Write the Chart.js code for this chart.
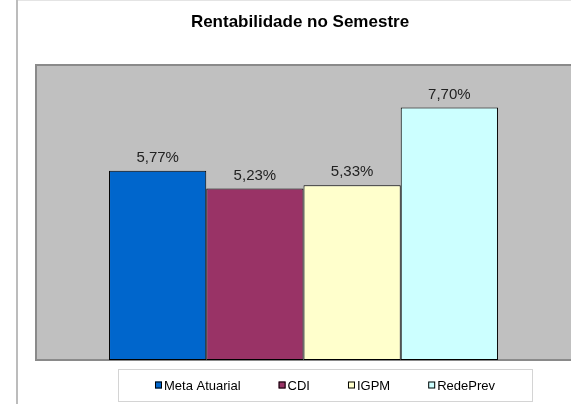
<!DOCTYPE html>
<html>
<head>
<meta charset="utf-8">
<script src="https://cdn.jsdelivr.net/npm/chart.js@4/dist/chart.umd.min.js"></script>
<style>
  html, body { margin: 0; padding: 0; background: #fff; }
  #wrap { width: 571px; height: 404px; position: relative; }
</style>
</head>
<body>
<div id="wrap"><canvas id="rentChart" width="571" height="404"></canvas></div>
<script>
const chartTitle = "Rentabilidade no Semestre";
const categories = ["Semestre"];
const seriesNames = ["Meta Atuarial", "CDI", "IGPM", "RedePrev"];
const seriesValues = [5.77, 5.23, 5.33, 7.70];
const seriesColors = ["#0066CC", "#993366", "#FFFFCC", "#CCFFFF"];
const yTicks = [0, 9];

const FONT = "'Liberation Sans', Arial, sans-serif";

function fmtPct(v) {
  return v.toFixed(2).replace(".", ",") + "%";
}

// background, frame lines, plot area and title
const framePlugin = {
  id: "frame",
  beforeDraw(chart) {
    const ctx = chart.ctx;
    const a = chart.chartArea;
    ctx.save();
    ctx.fillStyle = "#fff";
    ctx.fillRect(0, 0, chart.width, chart.height);
    // outer chart border (left + top)
    ctx.fillStyle = "#bcbcbc";
    ctx.fillRect(16, 0, 2, chart.height);
    ctx.fillStyle = "#e4e4e4";
    ctx.fillRect(18, 0, chart.width - 18, 1);
    // plot area
    ctx.fillStyle = "#C0C0C0";
    ctx.fillRect(a.left, a.top, a.right - a.left, a.bottom - a.top);
    ctx.strokeStyle = "#8a8a8a";
    ctx.lineWidth = 2;
    ctx.beginPath();
    ctx.moveTo(a.right + 2, a.top);
    ctx.lineTo(a.left, a.top);
    ctx.lineTo(a.left, a.bottom);
    ctx.lineTo(a.right + 2, a.bottom);
    ctx.stroke();
    // title
    ctx.fillStyle = "#000";
    ctx.font = "bold 17px " + FONT;
    ctx.textAlign = "center";
    ctx.textBaseline = "alphabetic";
    ctx.fillText(chartTitle, 300, 27);
    ctx.restore();
  },
  afterDatasetsDraw(chart) {
    const ctx = chart.ctx;
    ctx.save();
    ctx.fillStyle = "#222";
    ctx.font = "15px " + FONT;
    ctx.textAlign = "center";
    ctx.textBaseline = "alphabetic";
    chart.data.datasets.forEach((ds, i) => {
      const bar = chart.getDatasetMeta(i).data[0];
      ctx.fillText(fmtPct(ds.data[0]), bar.x, bar.y - 9);
    });

    // legend box at the bottom
    const boxL = 118, boxR = 532, boxT = 369.5, boxB = 401.5;
    ctx.strokeStyle = "#d4d4d4";
    ctx.lineWidth = 1;
    ctx.strokeRect(boxL + 0.5, boxT, boxR - boxL, boxB - boxT);
    ctx.font = "13px " + FONT;
    const gap = 38, mark = 7, markGap = 2;
    const widths = chart.data.datasets.map(ds => mark + markGap + ctx.measureText(ds.label).width);
    const total = widths.reduce((s, w) => s + w, 0) + gap * (widths.length - 1);
    let x = (boxL + boxR) / 2 - total / 2;
    const cy = 385;
    ctx.textAlign = "left";
    chart.data.datasets.forEach((ds, i) => {
      ctx.fillStyle = ds.backgroundColor;
      ctx.fillRect(x, cy - 3.5, mark, mark);
      ctx.strokeStyle = "#000";
      ctx.strokeRect(x + 0.5, cy - 3.5 + 0.5, mark - 1, mark - 1);
      ctx.fillStyle = "#000";
      ctx.fillText(ds.label, x + mark + markGap, cy + 4.5);
      x += widths[i] + gap;
    });
    ctx.restore();
  }
};

new Chart(document.getElementById("rentChart"), {
  type: "bar",
  data: {
    labels: categories,
    datasets: seriesNames.map((name, i) => ({
      label: name,
      data: [seriesValues[i]],
      backgroundColor: seriesColors[i],
      borderColor: "#000",
      borderWidth: 1,
      borderSkipped: false,
      categoryPercentage: 0.727,
      barPercentage: 1
    }))
  },
  options: {
    responsive: false,
    animation: false,
    devicePixelRatio: 1,
    layout: { padding: { left: 36, top: 65, right: 0, bottom: 44 } },
    plugins: {
      legend: { display: false },
      title: { display: false },
      tooltip: { enabled: false }
    },
    scales: {
      x: { display: false },
      y: {
        display: false,
        min: yTicks[0],
        max: yTicks[yTicks.length - 1]
      }
    }
  },
  plugins: [framePlugin]
});
</script>
</body>
</html>
